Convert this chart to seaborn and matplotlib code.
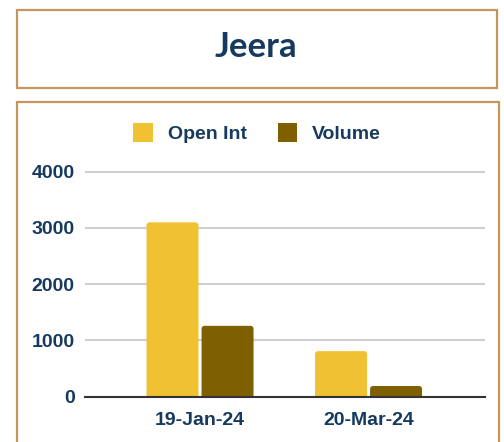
import matplotlib
matplotlib.use("Agg")
import matplotlib.pyplot as plt
import seaborn as sns
import pandas as pd
from matplotlib.patches import Rectangle, Patch, FancyBboxPatch

dates = ["19-Jan-24", "20-Mar-24"]
open_int = [3100, 810]
volume = [1260, 190]
series_names = ["Open Int", "Volume"]
colors = ["#F0C132", "#7F6000"]
title = "Jeera"
yticks = [0, 1000, 2000, 3000, 4000]

navy = "#163A5F"
border = "#C4965E"

df = pd.DataFrame({
    "date": dates * 2,
    "value": open_int + volume,
    "series": [series_names[0]] * len(dates) + [series_names[1]] * len(dates),
})

sns.set_style("white")
plt.rcParams["font.family"] = ["Liberation Sans", "DejaVu Sans"]

W, H = 504, 442
fig = plt.figure(figsize=(W / 100, H / 100), dpi=100)

# boxes
fig.patches.append(Rectangle((16.7 / W, 1 - 88 / H), (497 - 16.7) / W, (88 - 10) / H,
                             transform=fig.transFigure, fill=False, edgecolor=border, linewidth=1.6))
fig.patches.append(Rectangle((16.7 / W, -0.05), (499.3 - 16.7) / W, 1 - 101.7 / H + 0.05,
                             transform=fig.transFigure, fill=False, edgecolor=border, linewidth=1.6))
fig.text(256 / W, 1 - 47 / H, title, ha="center", va="center", fontsize=25,
         fontweight="bold", color=navy, family=["Lato", "DejaVu Sans"])

ymax = 4100
ppu = (396.7 - 171.7) / 4000
top_px = 396.7 - ymax * ppu
ax = fig.add_axes([85 / W, 1 - 396.7 / H, 400 / W, (396.7 - top_px) / H])

sns.barplot(data=df, x="date", y="value", hue="series", palette=colors,
            width=0.653, gap=0.055, ax=ax, legend=False, saturation=1)

ax.set_ylim(0, ymax)
ax.set_xlim(-0.6825, 1.691)

# round bar corners (restyle seaborn's bars in place)
px_x = 400 / (1.691 + 0.6825)      # pixels per x unit
px_y = ppu                          # pixels per y unit
r_px = 3.0
for p in list(ax.patches):
    if isinstance(p, Rectangle):
        x, y = p.get_x(), p.get_y()
        w, h = p.get_width(), p.get_height()
        fc = p.get_facecolor()
        p.remove()
        ry = r_px / px_y
        fb = FancyBboxPatch((x, y - ry), w, h + ry,
                            boxstyle=f"round,pad=0,rounding_size={r_px / px_x}",
                            mutation_aspect=px_x / px_y,
                            facecolor=fc, edgecolor="none", zorder=2)
        ax.add_patch(fb)

ax.set_yticks(yticks)
ax.yaxis.grid(True, color="#D0D0D0", linewidth=1.5)
ax.set_axisbelow(True)
for s in ["top", "right", "left"]:
    ax.spines[s].set_visible(False)
ax.spines["bottom"].set_color("#333333")
ax.spines["bottom"].set_linewidth(1.5)
ax.spines["bottom"].set_zorder(3)
ax.tick_params(axis="both", length=0, labelcolor=navy, labelsize=14)
ax.tick_params(axis="y", pad=7.5)
ax.tick_params(axis="x", pad=11)
for lab in ax.get_xticklabels() + ax.get_yticklabels():
    lab.set_fontweight("bold")
ax.set_xlabel("")
ax.set_ylabel("")

handles = [Patch(facecolor=c, edgecolor="none") for c in colors]
leg = fig.legend(handles, series_names, loc="center", bbox_to_anchor=(257 / W, 1 - 133 / H),
                 ncol=2, frameon=False, handlelength=1.0, handleheight=1.15,
                 handletextpad=0.75, columnspacing=1.6,
                 prop={"size": 14, "weight": "bold", "family": ["Liberation Sans", "DejaVu Sans"]})
for t in leg.get_texts():
    t.set_color(navy)

fig.savefig("out.png", dpi=100)
